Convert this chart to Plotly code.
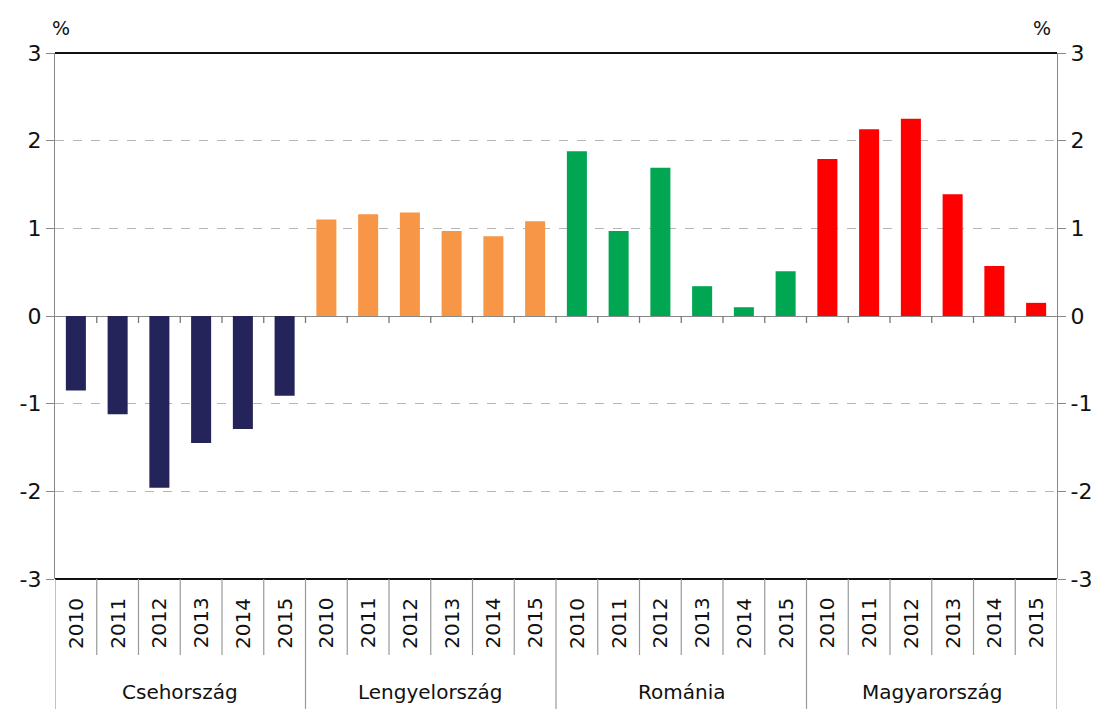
import plotly.graph_objects as go

countries = ["Csehország", "Lengyelország", "Románia", "Magyarország"]
years = ["2010", "2011", "2012", "2013", "2014", "2015"]
cz = [-0.85, -1.12, -1.96, -1.45, -1.29, -0.91]
pl = [1.10, 1.16, 1.18, 0.97, 0.91, 1.08]
ro = [1.88, 0.97, 1.69, 0.34, 0.10, 0.51]
hu = [1.79, 2.13, 2.25, 1.39, 0.57, 0.15]
colors = ["#25245A", "#F79646", "#00A651", "#FF0000"]
y_ticks = [-3, -2, -1, 0, 1, 2, 3]
y_ticktext = ["-3", "-2", "-1", "0", "1", "2", "3"]

series = [cz, pl, ro, hu]
n_years = len(years)
n_total = n_years * len(countries)

fig = go.Figure()
for ci, (name, vals, col) in enumerate(zip(countries, series, colors)):
    xs = [ci * n_years + k for k in range(n_years)]
    fig.add_trace(go.Bar(x=xs, y=vals, marker=dict(color=col, line=dict(width=0)),
                         width=0.48, name=name, showlegend=False))
# invisible trace to activate right axis
fig.add_trace(go.Scatter(x=[0, n_total - 1], y=[-3, 3], yaxis="y2", mode="markers",
                         marker=dict(opacity=0), showlegend=False, hoverinfo="skip"))

font_family = "DejaVu Sans"
txt_color = "#111111"
tick_font = dict(family=font_family, size=22, color=txt_color)

shapes = []
# top and bottom dark borders (paper refs so they are not clipped)
for yp in (0, 1):
    shapes.append(dict(type="line", xref="paper", yref="paper", x0=0, x1=1, y0=yp, y1=yp,
                       line=dict(color="#111111", width=2), layer="above"))
# small ticks on the zero line at category boundaries
for b in range(1, n_total):
    shapes.append(dict(type="line", xref="x", yref="y", x0=b - 0.5, x1=b - 0.5,
                       y0=0, y1=-0.08, line=dict(color="#777777", width=1.3)))
# separators in category area
for b in range(n_total + 1):
    xb = b - 0.5
    is_group = (b % n_years == 0)
    shapes.append(dict(type="line", xref="x", yref="paper", x0=xb, x1=xb,
                       y0=0, y1=(-0.247 if is_group else -0.1445),
                       line=dict(color="#999999", width=1.2)))

annotations = []
for ci, name in enumerate(countries):
    for k, yr in enumerate(years):
        annotations.append(dict(x=ci * n_years + k, y=-0.0837, xref="x", yref="paper",
                                text=yr, textangle=-90, showarrow=False,
                                font=dict(family=font_family, size=20, color=txt_color),
                                xanchor="center", yanchor="middle"))
    annotations.append(dict(x=ci * n_years + (n_years - 1) / 2, y=-0.215, xref="x", yref="paper",
                            text=name, showarrow=False,
                            font=dict(family=font_family, size=20, color=txt_color),
                            xanchor="center", yanchor="middle"))
for px in (61, 1042):
    annotations.append(dict(x=(px - 55) / 1002, y=(579 - 28) / 526, xref="paper", yref="paper",
                            text="%", showarrow=False, xanchor="center", yanchor="middle",
                            font=dict(family=font_family, size=19, color=txt_color)))

axis_common = dict(range=[-3, 3], tickvals=y_ticks, ticktext=y_ticktext, tickfont=tick_font,
                   ticks="outside", ticklen=8, tickcolor="#888888", showline=True,
                   linecolor="#888888", linewidth=1.2, fixedrange=True)

fig.update_layout(
    width=1104, height=709,
    margin=dict(l=55, r=47, t=53, b=130),
    paper_bgcolor="white", plot_bgcolor="white",
    bargap=0.5,
    xaxis=dict(range=[-0.5, n_total - 0.5], showticklabels=False, showgrid=False,
               zeroline=False, showline=False, ticks=""),
    yaxis=dict(**axis_common, side="left", showgrid=True, gridcolor="#b5b5b5",
               griddash="dash", gridwidth=1, zeroline=True, zerolinecolor="#888888",
               zerolinewidth=1.4),
    yaxis2=dict(**axis_common, side="right", overlaying="y", showgrid=False, zeroline=False),
    shapes=shapes,
    annotations=annotations,
    showlegend=False,
)

fig.write_html("out.html")
